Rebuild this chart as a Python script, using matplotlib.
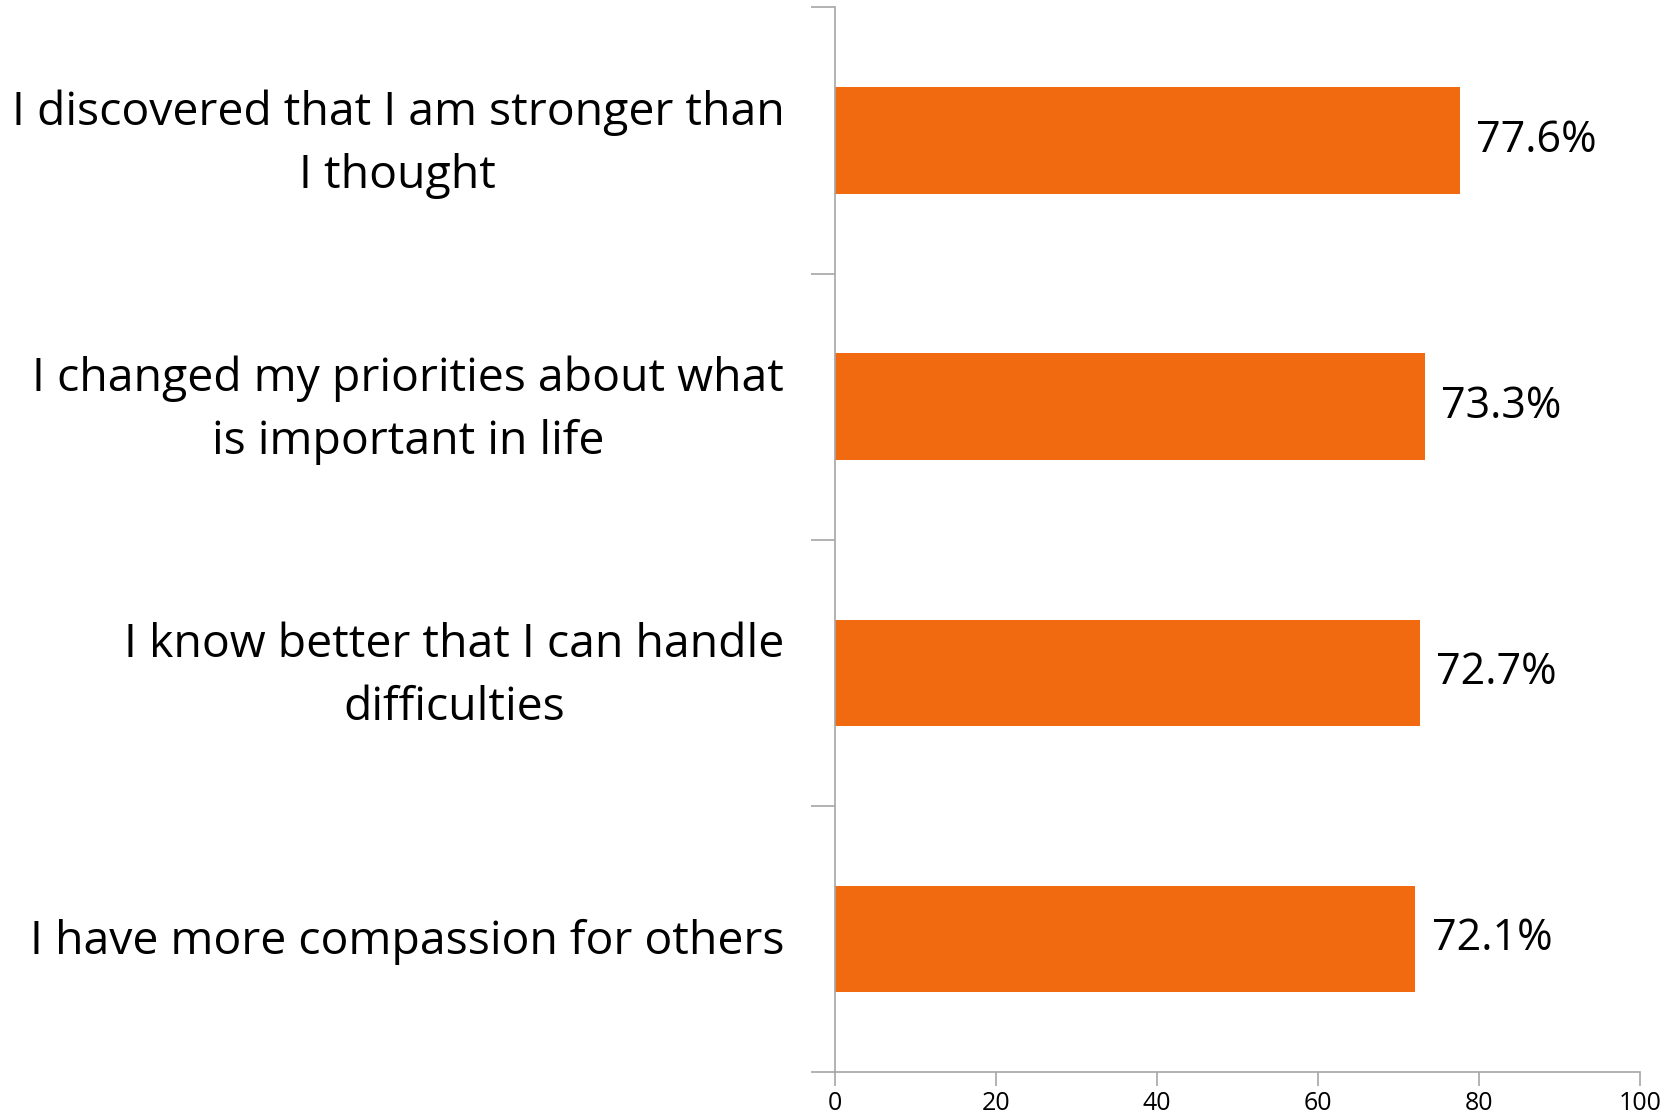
import matplotlib.pyplot as plt
import numpy as np

plt.rcParams['font.family'] = ['Open Sans', 'DejaVu Sans']

categories = [
    "I discovered that I am stronger than\nI thought",
    "I changed my priorities about what\nis important in life",
    "I know better that I can handle\ndifficulties",
    "I have more compassion for others",
]
values = [77.6, 73.3, 72.7, 72.1]
value_labels = ["77.6%", "73.3%", "72.7%", "72.1%"]

bar_color = "#F26A10"
axis_color = "#A6A6A6"

fig = plt.figure(figsize=(16.79, 11.19), dpi=100)
ax = fig.add_axes([0.4973, 0.042, 0.4795, 0.9513])

pos = np.arange(len(categories))
ax.barh(pos, values, height=0.4, color=bar_color)

for p, v, lab in zip(pos, values, value_labels):
    ax.text(v + 2.0, p, lab, va="center", ha="left", fontsize=31, color="black")

ax.set_xlim(0, 100)
ax.set_ylim(len(categories) - 0.5, -0.5)
ax.set_xticks(np.arange(0, 101, 20))
ax.tick_params(axis="x", labelsize=18, length=10, width=1.2, color=axis_color, pad=4)

# category labels, centred on each bar, lines centred within the block
ax.set_yticks([])
for p, cat in zip(pos, categories):
    ax.annotate(cat, xy=(0, p), xycoords=ax.get_yaxis_transform(),
                xytext=(-36.5, -2.5), textcoords="offset points",
                ha="right", va="center", multialignment="center",
                fontsize=33.4, linespacing=1.47)

ax.set_yticks(np.arange(-0.5, len(categories) + 0.5, 1), minor=True)
ax.tick_params(axis="y", which="minor", length=17, width=1.2, color=axis_color)

for s in ["top", "right"]:
    ax.spines[s].set_visible(False)
for s in ["left", "bottom"]:
    ax.spines[s].set_color(axis_color)
    ax.spines[s].set_linewidth(1.2)

fig.savefig("out.png", dpi=100)
